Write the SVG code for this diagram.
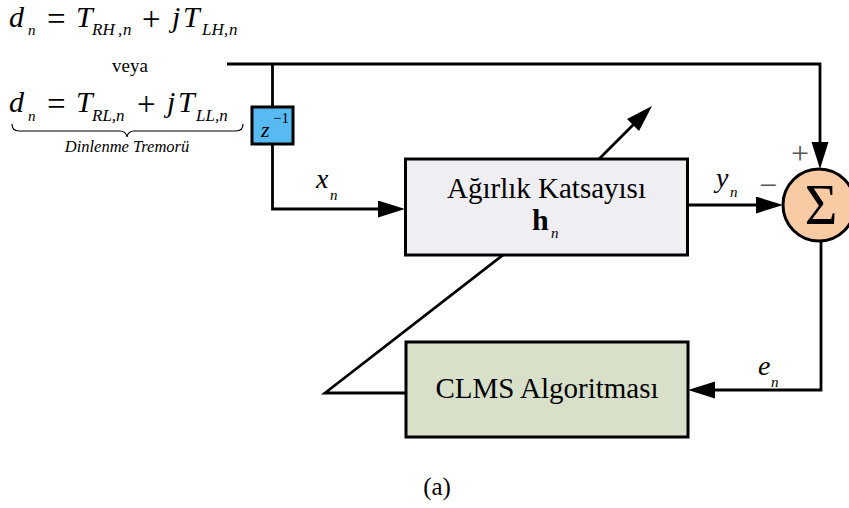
<svg xmlns="http://www.w3.org/2000/svg" width="849" height="508" viewBox="0 0 849 508">
  <style>
    text { font-family: "Liberation Serif", "Times New Roman", serif; fill: #000; }
    .it { font-style: italic; }
    .op { font-size: 33px; }
    .wire { fill: none; stroke: #000; stroke-width: 2.8; stroke-linejoin: miter; }
    .box { stroke: #000; stroke-width: 3; }
    .sign { fill: #555; }
  </style>
  <defs>
    <marker id="arrow" markerUnits="userSpaceOnUse" markerWidth="28" markerHeight="18" refX="17" refY="8.5" orient="auto">
      <path d="M0,0 L27,8.5 L0,17 Z" fill="#000"/>
    </marker>
  </defs>

  <rect width="849" height="508" fill="#fff"/>

  <!-- input signal definitions -->
  <g id="equations">
    <text class="it" x="9" y="27" font-size="30">d</text>
    <text class="it" x="28" y="35" font-size="15">n</text>
    <text class="op" x="47" y="30">=</text>
    <text class="it" x="76" y="27" font-size="30">T</text>
    <text class="it" y="35" font-size="17"><tspan x="92">RH</tspan><tspan x="118">,</tspan><tspan x="123">n</tspan></text>
    <text class="op" x="142" y="30">+</text>
    <text class="it" x="172" y="27" font-size="30">j</text>
    <text class="it" x="183" y="27" font-size="30">T</text>
    <text class="it" y="35" font-size="17"><tspan x="202">LH</tspan><tspan x="224">,</tspan><tspan x="229">n</tspan></text>

    <text x="130" y="72" font-size="19" text-anchor="middle">veya</text>

    <text class="it" x="9" y="112" font-size="30">d</text>
    <text class="it" x="28" y="121" font-size="15">n</text>
    <text class="op" x="47" y="115">=</text>
    <text class="it" x="76" y="112" font-size="30">T</text>
    <text class="it" x="92" y="121" font-size="17">RL,n</text>
    <text class="op" x="137" y="115">+</text>
    <text class="it" x="167" y="112" font-size="30">j</text>
    <text class="it" x="178" y="112" font-size="30">T</text>
    <text class="it" x="196" y="121" font-size="17">LL,n</text>

    <path d="M12,124 Q12,131 19,131 L120,131 Q126,131 127,137 Q128,131 134,131 L236,131 Q243,131 243,124" fill="none" stroke="#000" stroke-width="1.2"/>
    <text class="it" x="127" y="152" font-size="16.5" text-anchor="middle">Dinlenme Tremorü</text>
  </g>

  <!-- connectors -->
  <g id="connectors">
    <!-- desired signal to summing junction -->
    <polyline class="wire" points="227,64 820,64 820,159" marker-end="url(#arrow)"/>
    <!-- branch into delay element -->
    <line class="wire" x1="272.5" y1="64" x2="272.5" y2="107"/>
    <!-- delayed input to filter -->
    <polyline class="wire" points="272.5,144 272.5,209 395,209" marker-end="url(#arrow)"/>
    <!-- filter output to summing junction -->
    <line class="wire" x1="688" y1="205" x2="773" y2="205" marker-end="url(#arrow)"/>
    <!-- error back to adaptation block -->
    <polyline class="wire" points="821,241 821,390 698,390" marker-end="url(#arrow)"/>
    <!-- weight update (adjustment arrow across the filter) -->
    <polyline class="wire" points="406,393 325,393 503,255 645,113" marker-end="url(#arrow)"/>
  </g>

  <!-- delay element -->
  <g id="delay">
    <rect class="box" x="252" y="107" width="41" height="37" fill="#58BAF2"/>
    <text class="it" x="261" y="137" font-size="22">z</text>
    <text x="273" y="123" font-size="15">−1</text>
  </g>

  <!-- adaptive filter weights -->
  <g id="filter">
    <rect class="box" x="405.5" y="159" width="282" height="96" fill="#EFEEF3"/>
    <text x="546.5" y="198" font-size="29" text-anchor="middle">Ağırlık Katsayısı</text>
    <text x="532" y="230" font-size="30" font-weight="bold">h</text>
    <text class="it" x="551" y="238" font-size="15">n</text>
  </g>

  <!-- CLMS adaptation block -->
  <g id="clms">
    <rect class="box" x="406" y="342" width="282" height="95" fill="#D8E0CA"/>
    <text x="547" y="398" font-size="29" text-anchor="middle">CLMS Algoritması</text>
  </g>

  <!-- summing junction -->
  <g id="sum">
    <circle cx="819" cy="205" r="36" fill="#F9CBA5" stroke="#000" stroke-width="3"/>
    <text x="821" y="224" font-size="56" text-anchor="middle">Σ</text>
    <text class="sign" x="800" y="164" font-size="32" text-anchor="middle">+</text>
    <text class="sign" x="768" y="196" font-size="32" text-anchor="middle">−</text>
  </g>

  <!-- signal labels -->
  <g id="labels">
    <text class="it" x="316" y="188" font-size="28">x</text>
    <text class="it" x="330" y="200" font-size="15">n</text>
    <text class="it" x="716" y="187" font-size="28">y</text>
    <text class="it" x="730" y="197" font-size="15">n</text>
    <text class="it" x="758" y="375" font-size="28">e</text>
    <text class="it" x="771" y="387" font-size="15">n</text>
  </g>

  <text x="437" y="495" font-size="25" text-anchor="middle">(a)</text>
</svg>
